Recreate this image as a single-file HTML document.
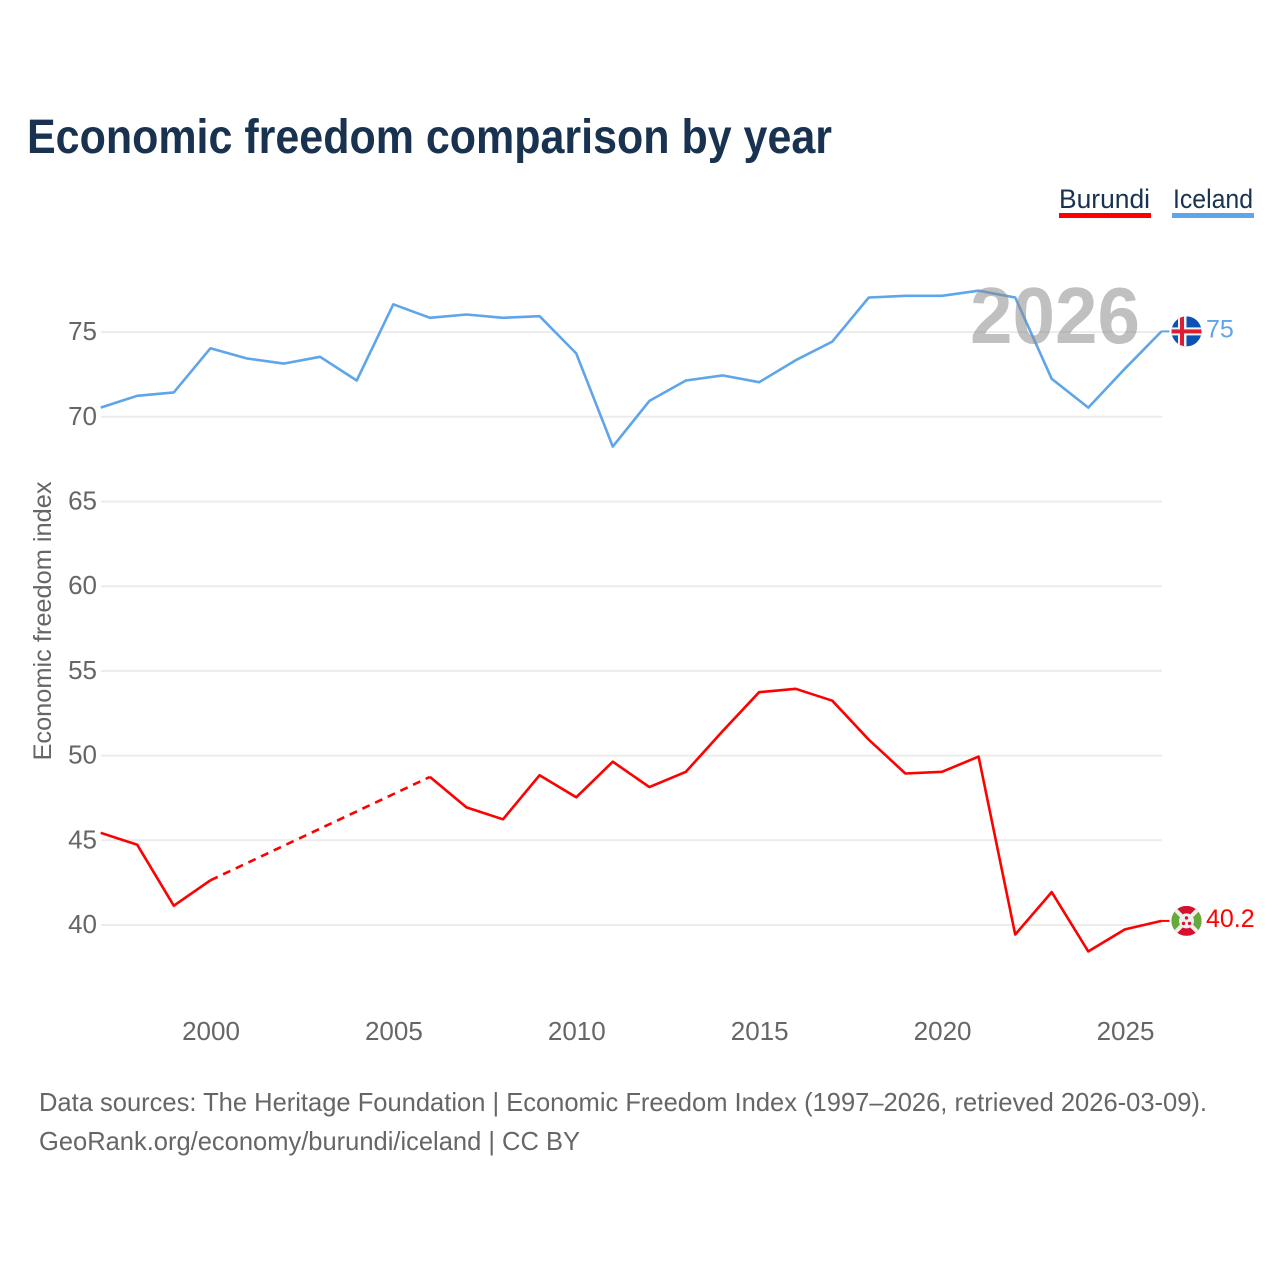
<!DOCTYPE html>
<html lang="en">
<head>
<meta charset="utf-8">
<title>Economic freedom comparison by year</title>
<style>
html,body{margin:0;padding:0;background:#fff;}
svg{display:block;font-family:"Liberation Sans",sans-serif;}
</style>
</head>
<body>
<svg id="chart" xmlns="http://www.w3.org/2000/svg" width="1280" height="1280" viewBox="0 0 1280 1280">
  <defs>
    <clipPath id="flag-clip-is"><circle cx="15" cy="15" r="15"/></clipPath>
    <clipPath id="flag-clip-bi"><circle cx="15" cy="15" r="15"/></clipPath>
  </defs>
  <rect x="0" y="0" width="1280" height="1280" fill="#fff"/>
  <text x="27" y="153" font-size="48" font-weight="700" fill="#18324f" textLength="805" lengthAdjust="spacingAndGlyphs">Economic freedom comparison by year</text>

  <g>
    <g>
      <text x="1059" y="208" font-size="27" fill="#18324f" textLength="91" lengthAdjust="spacingAndGlyphs">Burundi</text>
      <rect x="1059" y="213" width="92" height="5" fill="#ff0000"/>
    </g>
    <g>
      <text x="1173" y="208" font-size="27" fill="#18324f" textLength="80" lengthAdjust="spacingAndGlyphs">Iceland</text>
      <rect x="1172" y="213" width="82" height="5" fill="#5fa5ea"/>
    </g>
  </g>

  <g id="grid"></g>
  <g id="y-ticks"></g>
  <g id="x-ticks"></g>
  <text transform="translate(51,621) rotate(-90)" text-anchor="middle" font-size="25" fill="#666" textLength="279" lengthAdjust="spacingAndGlyphs">Economic freedom index</text>

  <g id="series"></g>

  <text id="year-label" x="970" y="343" font-size="80" font-weight="700" fill="#8c8c8c" fill-opacity="0.55" textLength="170" lengthAdjust="spacingAndGlyphs">2026</text>

  <g id="flag-iceland">
    <g clip-path="url(#flag-clip-is)">
      <rect width="30" height="30" fill="#0b52b5"/>
      <rect x="6.5" y="0" width="8.5" height="30" fill="#f3f3f3"/>
      <rect x="0" y="11" width="30" height="8" fill="#f3f3f3"/>
      <rect x="8.5" y="0" width="4" height="30" fill="#dc1e35"/>
      <rect x="0" y="13" width="30" height="4" fill="#dc1e35"/>
    </g>
  </g>
  <g id="flag-burundi">
    <g clip-path="url(#flag-clip-bi)">
      <rect width="30" height="30" fill="#d5112e"/>
      <polygon points="0,0 15,15 0,30" fill="#68a93e"/>
      <polygon points="30,0 15,15 30,30" fill="#68a93e"/>
      <path d="M0,0 L30,30 M30,0 L0,30" stroke="#efefef" stroke-width="4"/>
      <circle cx="15" cy="15" r="7.5" fill="#efefef"/>
      <circle cx="15" cy="12" r="1.7" fill="#d5112e"/>
      <circle cx="12" cy="17.5" r="1.7" fill="#d5112e"/>
      <circle cx="18" cy="17.5" r="1.7" fill="#d5112e"/>
    </g>
  </g>
  <text id="end-label-iceland" x="1206" font-size="25" fill="#5fa5ea"></text>
  <text id="end-label-burundi" x="1206" font-size="25" fill="#ff0000"></text>

  <text x="39" y="1111" font-size="26" fill="#666" textLength="1168" lengthAdjust="spacingAndGlyphs">Data sources: The Heritage Foundation | Economic Freedom Index (1997–2026, retrieved 2026-03-09).</text>
  <text x="39" y="1150" font-size="26" fill="#666" textLength="541" lengthAdjust="spacingAndGlyphs">GeoRank.org/economy/burundi/iceland | CC BY</text>
</svg>
<script>
const years = [1997,1998,1999,2000,2001,2002,2003,2004,2005,2006,2007,2008,2009,2010,2011,2012,2013,2014,2015,2016,2017,2018,2019,2020,2021,2022,2023,2024,2025,2026];
const icelandValues = [70.5,71.2,71.4,74.0,73.4,73.1,73.5,72.1,76.6,75.8,76.0,75.8,75.9,73.7,68.2,70.9,72.1,72.4,72.0,73.3,74.4,77.0,77.1,77.1,77.4,77.0,72.2,70.5,72.8,75];
const burundiValues = [45.4,44.7,41.1,42.6,null,null,null,null,null,48.7,46.9,46.2,48.8,47.5,49.6,48.1,49.0,51.4,53.7,53.9,53.2,50.9,48.9,49.0,49.9,39.4,41.9,38.4,39.7,40.2];
const yTickValues = [40,45,50,55,60,65,70,75];
const xTickValues = [2000,2005,2010,2015,2020,2025];

const SVG_NS = 'http://www.w3.org/2000/svg';
function xScale(year){ return 210.4 + (year - 2000) * 36.58; }
function yScale(v){ return 924.3 - (v - 40) * 16.94; }
function make(tag, attrs, parent){
  const el = document.createElementNS(SVG_NS, tag);
  for (const k in attrs) el.setAttribute(k, attrs[k]);
  parent.appendChild(el);
  return el;
}

const gridG = document.getElementById('grid');
const yG = document.getElementById('y-ticks');
yTickValues.forEach(function(v){
  const gy = yScale(v) + 0.7;
  const line = make('line', {x1:101, x2:1162, y1:gy, y2:gy, stroke:'#ececec', 'stroke-width':2}, gridG);
  
  
  const t = make('text', {x:97, y:gy+8, 'text-anchor':'end', 'font-size':26, fill:'#666'}, yG);
  
  
  t.textContent = v;
});

const xG = document.getElementById('x-ticks');
xTickValues.forEach(function(y){
  const t = make('text', {x:xScale(y)+0.6, y:1040, 'text-anchor':'middle', 'font-size':26, fill:'#666'}, xG);
  
  
  t.textContent = y;
});

const seriesG = document.getElementById('series');
function drawSeries(name, values, color, flagId, labelId){
  const group = make('g', {}, seriesG);
  
  
  let solid = '';
  let dashed = '';
  let prev = -1;
  values.forEach(function(v, i){
    if (v === null) return;
    const pt = xScale(years[i]).toFixed(1) + ',' + yScale(v).toFixed(1);
    if (prev >= 0) {
      const prevPt = xScale(years[prev]).toFixed(1) + ',' + yScale(values[prev]).toFixed(1);
      if (i - prev > 1) {
        dashed += 'M' + prevPt + 'L' + pt;
        solid += 'M' + pt;
      } else {
        solid += 'L' + pt;
      }
    } else {
      solid += 'M' + pt;
    }
    prev = i;
  });
  const line = make('path', {d:solid, fill:'none', stroke:color, 'stroke-width':2.6, 'stroke-linejoin':'round'}, group);
  
  
  if (dashed) {
    const gap = make('path', {d:dashed, fill:'none', stroke:color, 'stroke-width':2.6, 'stroke-dasharray':'8 6'}, group);
    
    
  }
  const last = values[values.length - 1];
  const lastX = xScale(years[years.length - 1]);
  const lastY = yScale(last);
  const conn = make('line', {x1:lastX, x2:lastX + 8, y1:lastY, y2:lastY, stroke:color, 'stroke-width':2}, group);
  
  
  document.getElementById(flagId).setAttribute('transform', 'translate(1171.5,' + (lastY - 15) + ')');
  const label = document.getElementById(labelId);
  label.setAttribute('y', lastY + 6);
  label.textContent = last;
}
drawSeries('iceland', icelandValues, '#5fa5ea', 'flag-iceland', 'end-label-iceland');
drawSeries('burundi', burundiValues, '#ff0000', 'flag-burundi', 'end-label-burundi');
document.getElementById('year-label').textContent = years[years.length - 1];
</script>
</body>
</html>
